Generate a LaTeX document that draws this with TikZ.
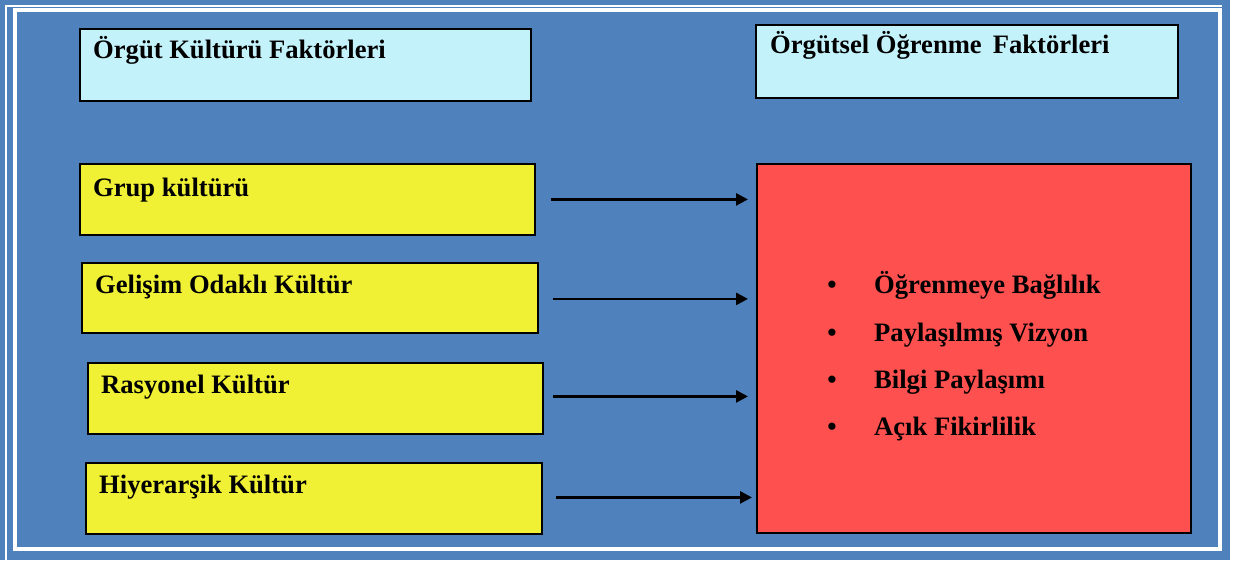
\documentclass[tikz,border=0pt]{standalone}
\usepackage{fontspec}
\setmainfont{Liberation Serif}
\usetikzlibrary{arrows.meta}
\definecolor{bgblue}{HTML}{4F81BD}
\definecolor{boxcyan}{HTML}{C4F2FA}
\definecolor{boxyellow}{HTML}{F0F035}
\definecolor{boxred}{HTML}{FF5050}
\begin{document}
\begin{tikzpicture}[x=1pt,y=-1pt,
  box/.style={draw=black, line width=1.8pt, inner sep=0pt, anchor=north west},
  lbl/.style={anchor=base west, inner sep=0pt, font=\fontsize{26.6}{30}\selectfont\bfseries},
  bul/.style={anchor=base, inner sep=0pt, font=\fontsize{26.6}{30}\selectfont\bfseries},
  arr/.style={line width=2.6pt, -{Triangle[length=12pt,width=12pt]}, shorten >=8pt}]
\useasboundingbox (0,0) rectangle (1239,560);
\fill[bgblue] (0,0) rectangle (1230,560);
\draw[white, line width=2pt] (6,560) -- (6,6) -- (1222,6);
\draw[white, line width=4pt] (15,10) rectangle (1220,549);

% title boxes
\node[box, fill=boxcyan, minimum width=451pt, minimum height=72pt] (t1) at (79,28) {};
\node[lbl] (t1txt) at (93,58) {Örgüt Kültürü Faktörleri};
\node[box, fill=boxcyan, minimum width=422pt, minimum height=73pt] (t2) at (755,24) {};
\node[lbl] (t2txt) at (770,53) {Örgütsel Öğrenme\, Faktörleri};

% yellow boxes
\node[box, fill=boxyellow, minimum width=455pt, minimum height=71pt] (g1) at (79,163) {};
\node[lbl] (g1txt) at (93,196) {Grup kültürü};
\node[box, fill=boxyellow, minimum width=456pt, minimum height=70pt] (g2) at (81,262) {};
\node[lbl] (g2txt) at (95,293) {Gelişim Odaklı Kültür};
\node[box, fill=boxyellow, minimum width=455pt, minimum height=71pt] (g3) at (87,362) {};
\node[lbl] (g3txt) at (101,393) {Rasyonel Kültür};
\node[box, fill=boxyellow, minimum width=456pt, minimum height=71pt] (g4) at (85,462) {};
\node[lbl] (g4txt) at (99,493) {Hiyerarşik Kültür};

% red box
\node[box, fill=boxred, minimum width=434pt, minimum height=369pt] (red) at (756,163) {};
\node[bul] (b1) at (832,293) {•};
\node[lbl] (l1) at (874,293) {Öğrenmeye Bağlılık};
\node[bul] (b2) at (832,341) {•};
\node[lbl] (l2) at (874,341) {Paylaşılmış Vizyon};
\node[bul] (b3) at (832,388) {•};
\node[lbl] (l3) at (874,388) {Bilgi Paylaşımı};
\node[bul] (b4) at (832,435) {•};
\node[lbl] (l4) at (874,435) {Açık Fikirlilik};

% arrows
\draw[arr, shorten <=15pt] (g1.east) -- (g1.east -| red.west);
\draw[arr, shorten <=14pt] ([yshift=-1pt]g2.east) -- ([yshift=-1pt]g2.east -| red.west);
\draw[arr, shorten <=9pt] ([yshift=2pt]g3.east) -- ([yshift=2pt]g3.east -| red.west);
\draw[arr, shorten <=13pt, shorten >=4pt] ([yshift=1pt]g4.east) -- ([yshift=1pt]g4.east -| red.west);
\end{tikzpicture}
\end{document}
